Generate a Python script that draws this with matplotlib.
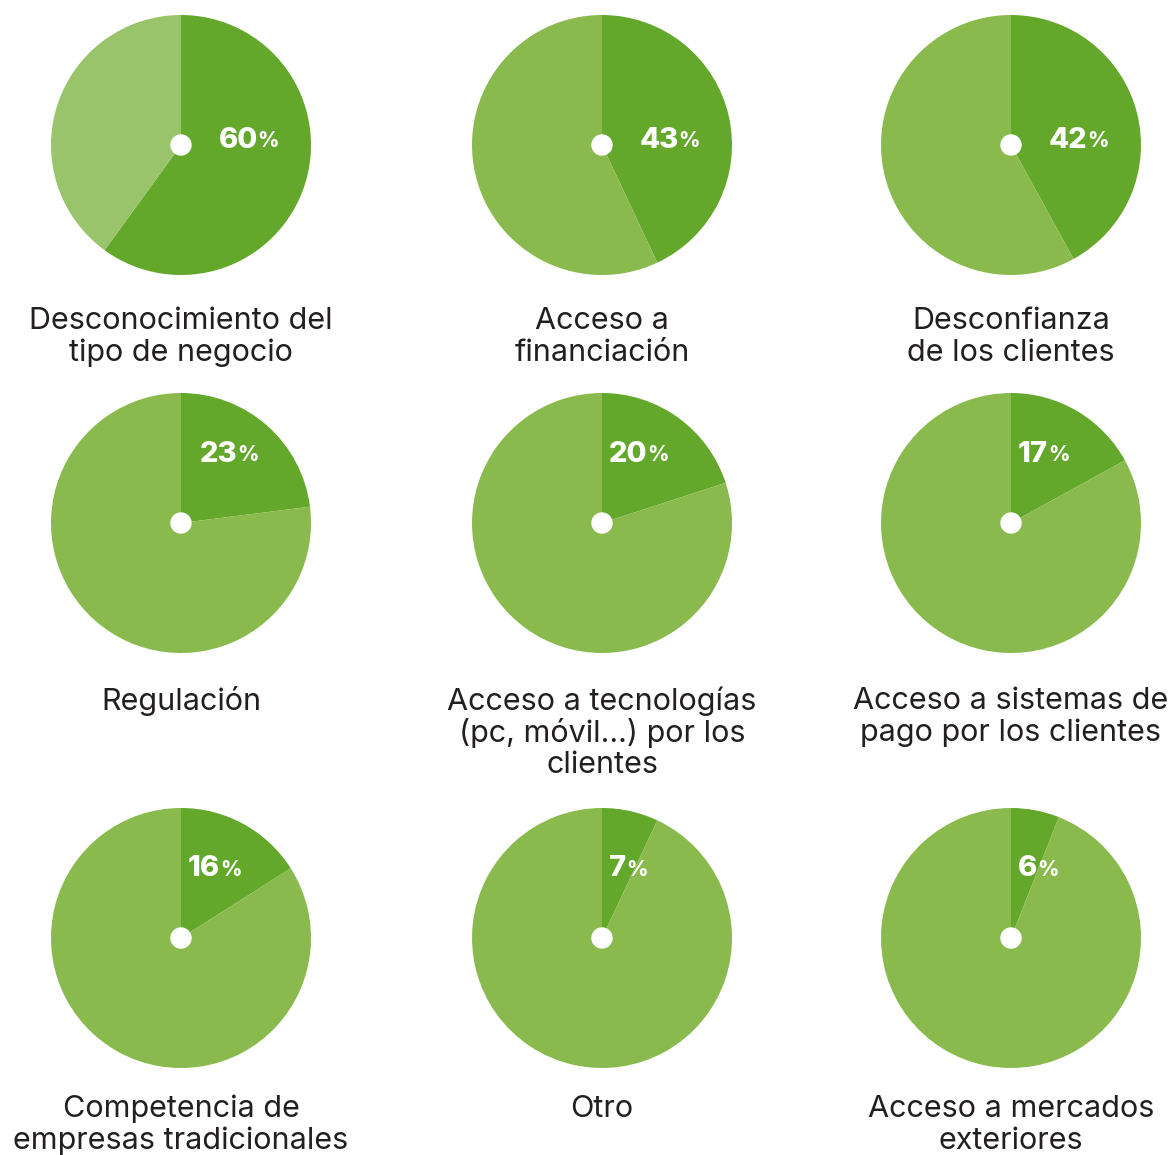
"""
Obstáculos para el negocio: nueve gráficos de tarta en rejilla 3x3.
Salida: out.png
"""

import matplotlib.pyplot as plt
from matplotlib.patches import Circle

# ── Datos ─────────────────────────────────────────────────────────────────────

CATEGORIES = [
    "Desconocimiento del\ntipo de negocio",
    "Acceso a\nfinanciación",
    "Desconfianza\nde los clientes",
    "Regulación",
    "Acceso a tecnologías\n(pc, móvil...) por los\nclientes",
    "Acceso a sistemas de\npago por los clientes",
    "Competencia de\nempresas tradicionales",
    "Otro",
    "Acceso a mercados\nexteriores",
]
VALUES = [60, 43, 42, 23, 20, 17, 16, 7, 6]

# ── Estilo ────────────────────────────────────────────────────────────────────

DARK = "#63A72B"
LIGHT = "#8ABA4E"
LIGHTER = "#9AC46B"   # resto del primer gráfico
TEXT = "#231F20"

W, H = 1174, 1155
DPI = 100
COL_X = [181, 602, 1011]
ROW_Y = [145, 523, 938]
LABEL_Y = [321, 701, 1109]
R = 130          # radio en px
LINE_H = 32      # interlineado de las etiquetas en px

plt.rcParams["font.family"] = ["Inter", "DejaVu Sans"]

fig = plt.figure(figsize=(W / DPI, H / DPI), dpi=DPI)
fig.patch.set_facecolor("white")


def fx(px):
    return px / W


def fy(py):
    return 1 - py / H


for i, (label, value) in enumerate(zip(CATEGORIES, VALUES)):
    row, col = divmod(i, 3)
    cx, cy = COL_X[col], ROW_Y[row]

    ax = fig.add_axes([fx(cx - R), fy(cy + R), 2 * R / W, 2 * R / H])
    rest = LIGHTER if i == 0 else LIGHT
    ax.pie([value, 100 - value], colors=[DARK, rest], startangle=90,
           counterclock=False, radius=1,
           wedgeprops=dict(linewidth=0))
    ax.add_patch(Circle((0, 0), 10 / R, color="white", zorder=5))
    ax.set_xlim(-1, 1)
    ax.set_ylim(-1, 1)
    ax.set_aspect("equal")
    ax.axis("off")

    # etiqueta del porcentaje dentro del sector oscuro
    if value > 30:
        tx, ty, ha = 57 / R, 5 / R, "center"
    else:
        tx, ty, ha = (19 if value > 20 else 7) / R, 69 / R, "left"
    num = ax.text(tx, ty, str(value), ha=ha, va="center", color="white",
                  fontsize=21, fontweight="heavy", zorder=6)
    ax.annotate("%", xy=(1.0, 0.08), xycoords=num, ha="left", va="bottom",
                color="white", fontsize=15, fontweight="heavy", zorder=6,
                annotation_clip=False)

    # texto de la categoría debajo del gráfico
    for j, line in enumerate(label.split("\n")):
        fig.text(fx(cx), fy(LABEL_Y[row] + j * LINE_H), line,
                 ha="center", va="center", fontsize=22, color=TEXT)

fig.savefig("out.png", dpi=DPI, facecolor="white")
plt.close(fig)
